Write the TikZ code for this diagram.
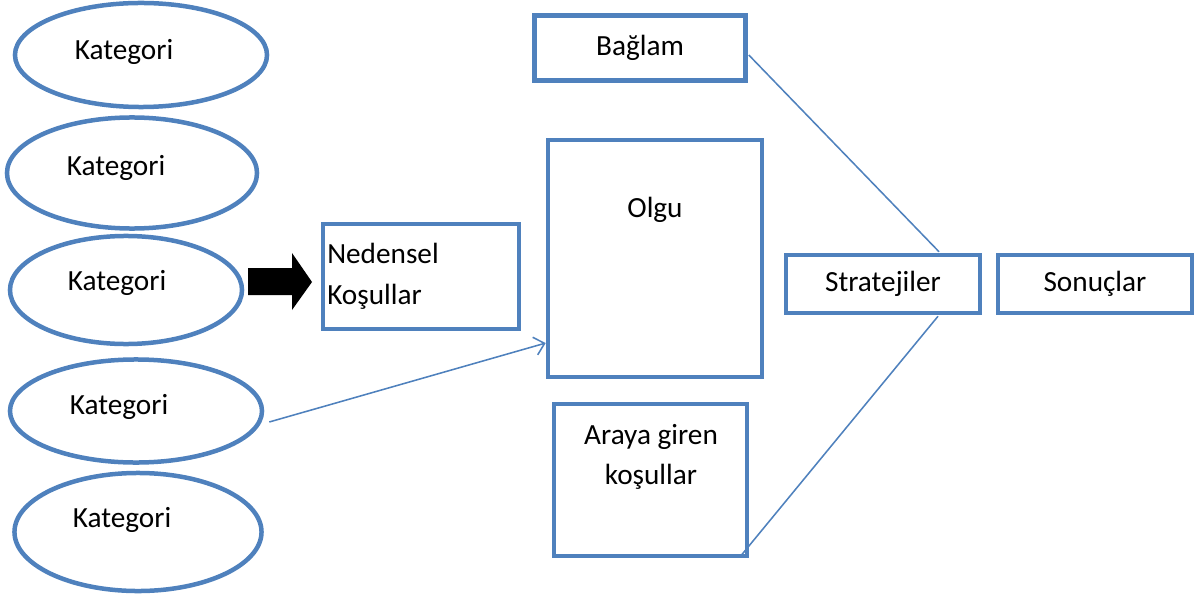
\documentclass[tikz,border=0pt]{standalone}
\usepackage{fontspec}
\setmainfont{Carlito}
\usetikzlibrary{shapes.geometric,arrows.meta,calc}
\definecolor{kutumavi}{HTML}{4F81BD}
\tikzset{
  kat/.style={ellipse, draw=kutumavi, line width=3.2pt, inner sep=0pt},
  kutu/.style={rectangle, draw=kutumavi, line width=3.2pt, inner sep=0pt},
  yazi/.style={font=\fontsize{20.8}{29}\selectfont, inner sep=0pt},
  bag/.style={draw=kutumavi, line width=1.1pt}
}

\begin{document}
\begin{tikzpicture}[x=0.025cm, y=-0.025cm]
\useasboundingbox (0,0) rectangle (1203,597);

% kategoriler
\node[kat, minimum width=6.3cm, minimum height=2.6cm] (k1) at (141,55) {};
\node[kat, minimum width=6.25cm, minimum height=2.775cm] (k2) at (132,173) {};
\node[kat, minimum width=5.8cm, minimum height=2.7cm] (k3) at (126,290) {};
\node[kat, minimum width=6.3cm, minimum height=2.575cm] (k4) at (136,411) {};
\node[kat, minimum width=6.175cm, minimum height=2.95cm] (k5) at (138,532) {};
\node[yazi] (t1) at (124,52) {Kategori};
\node[yazi] (t2) at (116,168) {Kategori};
\node[yazi] (t3) at (117,283) {Kategori};
\node[yazi] (t4) at (119,407) {Kategori};
\node[yazi] (t5) at (122,520) {Kategori};

% kalin ok
\fill (248,268) -- (292,268) -- (292,253) -- (312,282)
  -- (292,310) -- (292,295) -- (248,295) -- cycle;

% kutular
\node[kutu, minimum width=4.9cm, minimum height=2.625cm] (neden) at (421,276.5) {};
\node[yazi, align=left, anchor=west] (nedentxt) at (327,276) {Nedensel\\Koşullar};
\node[kutu, yazi, minimum width=5.275cm, minimum height=1.625cm] (baglam) at (640,48) {Bağlam};
\node[kutu, minimum width=5.35cm, minimum height=5.925cm] (olgu) at (655,258.5) {};
\node[yazi] (olgutxt) at (655,210) {Olgu};
\node[kutu, minimum width=4.825cm, minimum height=3.8cm] (araya) at (650.5,480) {};
\node[yazi, align=center] (arayatxt) at (651,457) {Araya giren\\koşullar};
\node[kutu, yazi, minimum width=4.85cm, minimum height=1.45cm] (strat) at (883,284) {Stratejiler};
\node[kutu, yazi, minimum width=4.85cm, minimum height=1.45cm] (sonuc) at (1095,284) {Sonuçlar};

% baglantilar
\draw[bag, -{Straight Barb[length=7pt, width=13pt]}] ($(k4.east)+(5,11)$)
  -- ($(olgu.south west)!0.15!(olgu.north west)$);
\draw[bag] ($(baglam.east)+(1,7)$) -- ($(strat.north)+(56,-1)$);
\draw[bag] ($(strat.south)+(55,1)$) -- ($(araya.south east)+(-8,-3)$);
\end{tikzpicture}
\end{document}
